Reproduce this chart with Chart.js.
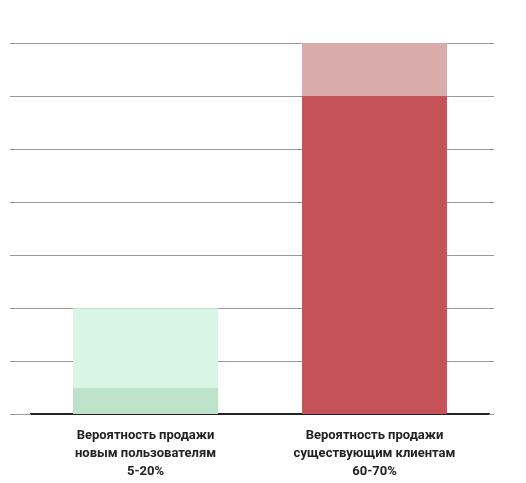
<!DOCTYPE html>
<html><head><meta charset="utf-8">
<script src="https://cdn.jsdelivr.net/npm/chart.js@4/dist/chart.umd.min.js"></script>
<style>html,body{margin:0;padding:0;background:#fff}#w{width:526px;height:483px}</style>
</head><body><div id="w"><canvas id="c"></canvas></div>
<script>
const categories=[["Вероятность продажи","новым пользователям","5-20%"],["Вероятность продажи","существующим клиентам","60-70%"]];
const baseValues=[5,60];
const rangeValues=[15,10];
const yTicks=[0,10,20,30,40,50,60,70];
const gridExt={id:'gridExt',beforeDatasetsDraw(ch){const y=ch.scales.y,c=ch.ctx,a=ch.chartArea;c.save();c.strokeStyle='#999';c.lineWidth=1;
y.ticks.forEach(t=>{const p=Math.round(y.getPixelForValue(t.value))+0.5;c.beginPath();c.moveTo(10,p);c.lineTo(a.left,p);c.moveTo(a.right,p);c.lineTo(494,p);c.stroke();});c.restore();}};
new Chart(document.getElementById('c'),{type:'bar',
data:{labels:categories,datasets:[
{data:baseValues,backgroundColor:['#bde3cb','#c45257'],barPercentage:0.633,categoryPercentage:1},
{data:rangeValues,backgroundColor:['#d8f5e6','#d9abab'],barPercentage:0.633,categoryPercentage:1}]},
plugins:[gridExt],
options:{responsive:true,maintainAspectRatio:false,animation:false,
layout:{padding:{left:31,right:37,top:43,bottom:-10}},
plugins:{legend:{display:false},tooltip:{enabled:false}},
scales:{x:{stacked:true,grid:{display:false,drawTicks:false},border:{color:'#222',width:2},
ticks:{color:'#222',font:{family:'Roboto',size:13,weight:'bold',lineHeight:1.4},padding:12}},
y:{stacked:true,min:0,max:70,afterBuildTicks:a=>{a.ticks=yTicks.map(v=>({value:v}));},
grid:{color:'#999',drawTicks:false},border:{display:false},
ticks:{mirror:true,labelOffset:-10,padding:-19,color:'#555',font:{family:'Roboto',size:12}}}}}});
</script></body></html>
